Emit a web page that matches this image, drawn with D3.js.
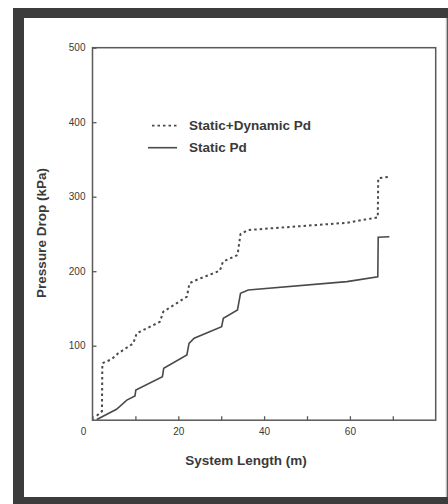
<!DOCTYPE html>
<html>
<head>
<meta charset="utf-8">
<script src="https://cdn.jsdelivr.net/npm/d3@7"></script>
<style>
  html, body { margin: 0; padding: 0; background: #fff; }
  svg { display: block; }
  text { font-family: Arial, "Liberation Sans", sans-serif; fill: #3a3a3a; }
</style>
</head>
<body>
<svg id="chart" width="448" height="504"></svg>
<script>
// ---- data ----
const staticX  = [1, 5.6, 8, 9.9, 10.1, 16.3, 16.6, 22, 22.5, 23.7, 30.1, 30.5, 33.8, 34.5, 36.3, 59.3, 66.5, 66.6, 69.2];
const staticY  = [1, 14.6, 27, 32.5, 40.5, 58.4, 69.6, 87.5, 103, 110, 125.5, 136.8, 148, 170.3, 174.8, 186, 192.6, 245.5, 246.3];
const totalX   = [1, 2.2, 2.3, 4.5, 6, 9.5, 10.3, 15.7, 16.5, 22, 22.6, 23.7, 29.7, 30.4, 33.8, 34.5, 36.3, 59.3, 66.5, 66.6, 69.3];
const totalY   = [6, 12, 76.4, 82, 89.8, 103, 116.6, 132, 145.6, 165.8, 183.7, 187, 200.7, 212.8, 221.7, 249.9, 255.3, 265, 272.3, 324.7, 326.8];
const xTicks   = [0, 10, 20, 30, 40, 50, 60, 70];
const xLabels  = [0, 20, 40, 60];
const yTicks   = [100, 200, 300, 400, 500];
const seriesNames = ["Static+Dynamic Pd", "Static Pd"];
const xTitle = "System Length (m)";
const yTitle = "Pressure Drop (kPa)";

const svg = d3.select("#chart");
const ink = "#4a4a4a";

// outer scanned frame
svg.append("rect").attr("x", 13).attr("y", 8).attr("width", 440).attr("height", 500).attr("fill", "#3c3c3c");
svg.append("rect").attr("x", 24).attr("y", 18).attr("width", 422).attr("height", 479).attr("fill", "#fff");
svg.append("line").attr("x1", 446.5).attr("x2", 446.5).attr("y1", 18).attr("y2", 497)
   .attr("stroke", "#bdbdbd").attr("stroke-width", 1.5);

const L = 92.5, R = 435.7, T = 47.7, B = 420.2;
const x = d3.scaleLinear().domain([0, 80]).range([L, R]);
const y = d3.scaleLinear().domain([0, 500]).range([B, T]);

// plot frame
svg.append("rect").attr("x", L).attr("y", T).attr("width", R - L).attr("height", B - T)
   .attr("fill", "none").attr("stroke", "#5a5a5a").attr("stroke-width", 1.5);

// x axis ticks (inward)
const xAxis = svg.append("g").attr("transform", `translate(0,${B})`)
  .call(d3.axisBottom(x).tickValues(xTicks).tickSizeInner(-4).tickSizeOuter(0)
        .tickFormat(d => xLabels.includes(d) ? d : ""));
xAxis.select(".domain").remove();
xAxis.selectAll(".tick line").attr("stroke", "#5a5a5a").attr("stroke-width", 1.3);
xAxis.selectAll(".tick text").attr("y", 8).attr("dy", "0.71em")
  .style("font-size", "10px").style("fill", "#3a3a3a").style("font-family", "Arial, 'Liberation Sans', sans-serif")
  .attr("dx", d => d === 0 ? -9.5 : 0);

// y axis ticks (inward)
const yAxis = svg.append("g").attr("transform", `translate(${L},0)`)
  .call(d3.axisLeft(y).tickValues(yTicks).tickSizeInner(-4).tickSizeOuter(0));
yAxis.select(".domain").remove();
yAxis.selectAll(".tick line").attr("stroke", "#5a5a5a").attr("stroke-width", 1.3);
yAxis.selectAll(".tick text").attr("x", -7)
  .style("font-size", "10px").style("fill", "#3a3a3a").style("font-family", "Arial, 'Liberation Sans', sans-serif");

// lines
const line = d3.line().x(d => x(d[0])).y(d => y(d[1]));
const staticPts = staticX.map((v, i) => [v, staticY[i]]);
const totalPts  = totalX.map((v, i) => [v, totalY[i]]);

svg.append("path").datum(totalPts).attr("d", line)
   .attr("fill", "none").attr("stroke", ink).attr("stroke-width", 2).attr("stroke-dasharray", "2.5,3");
svg.append("path").datum(staticPts).attr("d", line)
   .attr("fill", "none").attr("stroke", ink).attr("stroke-width", 1.6);

// legend
const lg = svg.append("g");
lg.append("line").attr("x1", 152).attr("x2", 177).attr("y1", 125.7).attr("y2", 125.7)
  .attr("stroke", ink).attr("stroke-width", 1.8).attr("stroke-dasharray", "2.5,3");
lg.append("line").attr("x1", 148).attr("x2", 177).attr("y1", 147.7).attr("y2", 147.7)
  .attr("stroke", ink).attr("stroke-width", 1.6);
lg.append("text").attr("x", 189).attr("y", 125.7).attr("dy", "0.35em")
  .style("font-size", "13.5px").style("font-weight", "bold").text(seriesNames[0]);
lg.append("text").attr("x", 189).attr("y", 147.7).attr("dy", "0.35em")
  .style("font-size", "13.5px").style("font-weight", "bold").text(seriesNames[1]);

// axis titles
svg.append("text").attr("x", 246).attr("y", 460).attr("dy", "0.35em").attr("text-anchor", "middle")
  .style("font-size", "13.5px").style("font-weight", "bold").text(xTitle);
svg.append("text").attr("transform", "translate(41.5,233) rotate(-90)").attr("dy", "0.35em")
  .attr("text-anchor", "middle").style("font-size", "13.5px").style("font-weight", "bold").text(yTitle);
</script>
</body>
</html>
